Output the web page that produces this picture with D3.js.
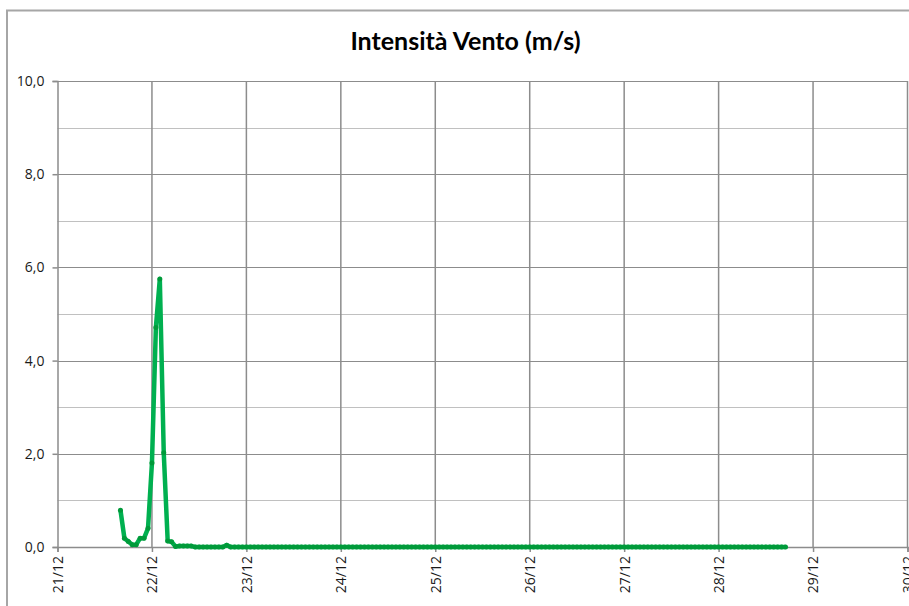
<!DOCTYPE html>
<html>
<head>
<meta charset="utf-8">
<script src="https://cdn.jsdelivr.net/npm/d3@7"></script>
<style>
  html, body { margin: 0; padding: 0; background: #fff; }
  svg { display: block; }
</style>
</head>
<body>
<svg id="chart" width="909" height="606"></svg>
<script>
// ---- data ----
const title = "Intensità Vento (m/s)";
const startTime = "2012-12-21T16:00:00";   // first hourly reading
const windSpeed = [
  0.79, 0.19, 0.12, 0.05, 0.05, 0.19, 0.19, 0.40, 1.80, 4.71,
  5.75, 2.02, 0.13, 0.11, 0.01, 0.02, 0.02, 0.02, 0.02, 0.00,
  0.00, 0.00, 0.00, 0.00, 0.00, 0.00, 0.00, 0.04, 0.00, 0.00,
  0.00, 0.00, 0.00, 0.00, 0.00, 0.00, 0.00, 0.00, 0.00, 0.00,
  0.00, 0.00, 0.00, 0.00, 0.00, 0.00, 0.00, 0.00, 0.00, 0.00,
  0.00, 0.00, 0.00, 0.00, 0.00, 0.00, 0.00, 0.00, 0.00, 0.00,
  0.00, 0.00, 0.00, 0.00, 0.00, 0.00, 0.00, 0.00, 0.00, 0.00,
  0.00, 0.00, 0.00, 0.00, 0.00, 0.00, 0.00, 0.00, 0.00, 0.00,
  0.00, 0.00, 0.00, 0.00, 0.00, 0.00, 0.00, 0.00, 0.00, 0.00,
  0.00, 0.00, 0.00, 0.00, 0.00, 0.00, 0.00, 0.00, 0.00, 0.00,
  0.00, 0.00, 0.00, 0.00, 0.00, 0.00, 0.00, 0.00, 0.00, 0.00,
  0.00, 0.00, 0.00, 0.00, 0.00, 0.00, 0.00, 0.00, 0.00, 0.00,
  0.00, 0.00, 0.00, 0.00, 0.00, 0.00, 0.00, 0.00, 0.00, 0.00,
  0.00, 0.00, 0.00, 0.00, 0.00, 0.00, 0.00, 0.00, 0.00, 0.00,
  0.00, 0.00, 0.00, 0.00, 0.00, 0.00, 0.00, 0.00, 0.00, 0.00,
  0.00, 0.00, 0.00, 0.00, 0.00, 0.00, 0.00, 0.00, 0.00, 0.00,
  0.00, 0.00, 0.00, 0.00, 0.00, 0.00, 0.00, 0.00, 0.00, 0.00
];
const xDomain = ["2012-12-21T00:00:00", "2012-12-30T00:00:00"];
const xTickLabels = ["21/12","22/12","23/12","24/12","25/12","26/12","27/12","28/12","29/12","30/12"];
const yMajorTicks = [0, 2, 4, 6, 8, 10];
const yMinorTicks = [1, 3, 5, 7, 9];

// ---- layout ----
const svg = d3.select("#chart");
const margin = { left: 57.5, right: 907.5, top: 81, bottom: 547 };

const parse = d3.isoParse;
const t0 = parse(startTime);
const points = windSpeed.map((v, i) => ({ t: d3.timeHour.offset(t0, i), v }));

const x = d3.scaleTime()
  .domain(xDomain.map(parse))
  .range([margin.left, margin.right]);
const y = d3.scaleLinear()
  .domain([0, 10])
  .range([margin.bottom, margin.top]);

const fontBody = "'Open Sans', 'Noto Sans', 'Liberation Sans', sans-serif";

// outer chart border
svg.append("rect")
  .attr("x", 7).attr("y", 10.5)
  .attr("width", 960).attr("height", 660)
  .attr("fill", "#fff")
  .attr("stroke", "#a6a6a6").attr("stroke-width", 2);

// title
const titleText = svg.append("text")
  .attr("x", 465.5).attr("y", 50)
  .attr("text-anchor", "middle")
  .attr("font-family", "Lato, 'Open Sans', sans-serif")
  .attr("font-weight", "bold")
  .attr("font-size", 25)
  .attr("fill", "#000")
  .text(title);
const tl = titleText.node().getComputedTextLength();
if (tl > 236) titleText.attr("textLength", 236).attr("lengthAdjust", "spacingAndGlyphs");

// grid lines
const grid = svg.append("g");
grid.selectAll(".minor").data(yMinorTicks).join("line")
  .attr("x1", margin.left).attr("x2", margin.right)
  .attr("y1", d => Math.round(y(d)) + 0.5).attr("y2", d => Math.round(y(d)) + 0.5)
  .attr("stroke", "#c0c0c0").attr("stroke-width", 1.2);
grid.selectAll(".major").data(yMajorTicks.filter(d => d > 0)).join("line")
  .attr("x1", margin.left).attr("x2", margin.right)
  .attr("y1", d => Math.round(y(d)) + 0.5).attr("y2", d => Math.round(y(d)) + 0.5)
  .attr("stroke", "#8c8c8c").attr("stroke-width", 1.2);

const dayTicks = d3.timeDay.range(parse(xDomain[0]), d3.timeDay.offset(parse(xDomain[1]), 1));
grid.selectAll(".vgrid").data(dayTicks.slice(1)).join("line")
  .attr("x1", d => x(d)).attr("x2", d => x(d))
  .attr("y1", margin.top).attr("y2", margin.bottom)
  .attr("stroke", "#8c8c8c").attr("stroke-width", 1.5);

// y axis
const yAxis = d3.axisLeft(y)
  .tickValues(yMajorTicks)
  .tickSize(5)
  .tickPadding(8)
  .tickFormat(d => d3.format(".1f")(d).replace(".", ","));
const gy = svg.append("g")
  .attr("transform", `translate(${margin.left},0)`)
  .call(yAxis);
gy.select(".domain").attr("stroke", "#8c8c8c").attr("stroke-width", 1.5);
gy.selectAll(".tick line").attr("stroke", "#8c8c8c").attr("stroke-width", 1.5);
gy.selectAll(".tick text")
  .attr("font-family", fontBody).attr("font-size", 14).attr("fill", "#1a1a1a");

// x axis
const xAxis = d3.axisBottom(x)
  .tickValues(dayTicks)
  .tickSize(5)
  .tickFormat((d, i) => xTickLabels[i]);
const gx = svg.append("g")
  .attr("transform", `translate(0,${margin.bottom})`)
  .call(xAxis);
gx.select(".domain").attr("stroke", "#8c8c8c").attr("stroke-width", 1.5);
gx.selectAll(".tick line").attr("stroke", "#8c8c8c").attr("stroke-width", 1.5);
gx.selectAll(".tick text")
  .attr("font-family", fontBody).attr("font-size", 14).attr("fill", "#1a1a1a")
  .attr("text-anchor", "end")
  .attr("dy", "0.35em")
  .attr("transform", "translate(0,9) rotate(-90)")
  .attr("x", 0).attr("y", 0);

// series line
const line = d3.line()
  .x(d => x(d.t))
  .y(d => y(d.v));
svg.append("path")
  .datum(points)
  .attr("fill", "none")
  .attr("stroke", "#00b050")
  .attr("stroke-width", 4.5)
  .attr("stroke-linejoin", "round")
  .attr("d", line);

// markers
svg.append("g").selectAll("circle").data(points).join("circle")
  .attr("cx", d => x(d.t))
  .attr("cy", d => y(d.v))
  .attr("r", 2.5)
  .attr("fill", "#009a3a");
</script>
</body>
</html>
